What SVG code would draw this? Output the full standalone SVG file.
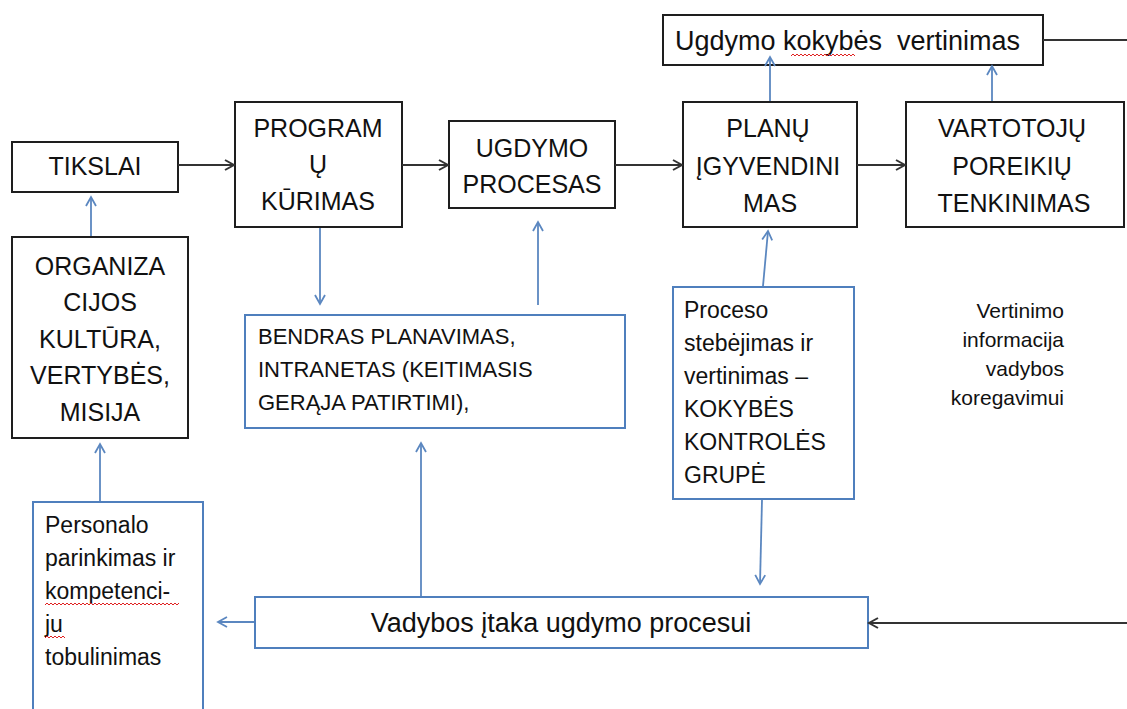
<svg xmlns="http://www.w3.org/2000/svg" width="1127" height="709" viewBox="0 0 1127 709">
<defs>
<style>
text{font-family:"Liberation Sans",Arial,sans-serif;fill:#111}
.kb{fill:#fff;stroke:#1e1e1e;stroke-width:2}
.bb{fill:#fff;stroke:#4f7fbd;stroke-width:2}
.t25{font-size:25px;text-anchor:middle}
.t22{font-size:22px}
.t23{font-size:23px}
.blk{stroke:#333;stroke-width:2;fill:none}
.blu{stroke:#5b87c0;stroke-width:1.8;fill:none}
.wave{stroke:#e02020;stroke-width:1;fill:none}
</style>
<marker id="ak" markerWidth="12" markerHeight="12" refX="10" refY="6" orient="auto" markerUnits="userSpaceOnUse">
<path d="M1,1 L10,6 L1,11" fill="none" stroke="#333" stroke-width="2"/>
</marker>
<marker id="ab" markerWidth="12" markerHeight="12" refX="10" refY="6" orient="auto" markerUnits="userSpaceOnUse">
<path d="M1,1 L10,6 L1,11" fill="none" stroke="#5b87c0" stroke-width="1.8"/>
</marker>
</defs>

<g id="ugdymo-kokybes">
<rect class="kb" x="663" y="15" width="380" height="50"/>
<text x="675" y="50" style="font-size:27px" xml:space="preserve">Ugdymo kokybės  vertinimas</text>
<path class="wave" d="M791,56 l2,-2 l2,2 l2,-2 l2,2 l2,-2 l2,2 l2,-2 l2,2 l2,-2 l2,2 l2,-2 l2,2 l2,-2 l2,2 l2,-2 l2,2 l2,-2 l2,2 l2,-2 l2,2 l2,-2 l2,2 l2,-2 l2,2 l2,-2 l2,2 l2,-2 l2,2 l2,-2 l2,2 l2,-2 l2,2"/>
</g>

<g id="tikslai">
<rect class="kb" x="12" y="142" width="166" height="50"/>
<text class="t25" x="95" y="175">TIKSLAI</text>
</g>

<g id="programu">
<rect class="kb" x="235" y="102" width="167" height="125"/>
<text class="t25" x="318" y="137">PROGRAM</text>
<text class="t25" x="318" y="173">Ų</text>
<text class="t25" x="318" y="210">KŪRIMAS</text>
</g>

<g id="ugdymo-procesas">
<rect class="kb" x="449" y="121" width="166" height="87"/>
<text class="t25" x="532" y="157">UGDYMO</text>
<text class="t25" x="532" y="193">PROCESAS</text>
</g>

<g id="planu">
<rect class="kb" x="683" y="102" width="174" height="125"/>
<text class="t25" x="768" y="137">PLANŲ</text>
<text class="t25" x="768" y="175">ĮGYVENDINI</text>
<text class="t25" x="770" y="212">MAS</text>
</g>

<g id="vartotoju">
<rect class="kb" x="906" y="102" width="218" height="125"/>
<text class="t25" x="1012" y="137">VARTOTOJŲ</text>
<text class="t25" x="1012" y="175">POREIKIŲ</text>
<text class="t25" x="1014" y="212">TENKINIMAS</text>
</g>

<g id="organizacijos">
<rect class="kb" x="12" y="237" width="176" height="201"/>
<text class="t25" x="100" y="275">ORGANIZA</text>
<text class="t25" x="100" y="311">CIJOS</text>
<text class="t25" x="100" y="348">KULTŪRA,</text>
<text class="t25" x="100" y="384">VERTYBĖS,</text>
<text class="t25" x="100" y="421">MISIJA</text>
</g>

<g id="bendras">
<rect class="bb" x="245" y="315" width="380" height="113"/>
<text class="t22" x="258" y="344">BENDRAS PLANAVIMAS,</text>
<text class="t22" x="258" y="377">INTRANETAS (KEITIMASIS</text>
<text class="t22" x="258" y="410">GERĄJA PATIRTIMI),</text>
</g>

<g id="proceso">
<rect class="bb" x="673" y="287" width="181" height="212"/>
<text class="t23" x="684" y="318">Proceso</text>
<text class="t23" x="684" y="351">stebėjimas ir</text>
<text class="t23" x="684" y="384">vertinimas –</text>
<text class="t23" x="684" y="417">KOKYBĖS</text>
<text class="t23" x="684" y="450">KONTROLĖS</text>
<text class="t23" x="684" y="483">GRUPĖ</text>
</g>

<g id="vertinimo-info">
<text x="1064" y="318" style="font-size:21px;text-anchor:end">Vertinimo</text>
<text x="1064" y="347" style="font-size:21px;text-anchor:end">informacija</text>
<text x="1064" y="376" style="font-size:21px;text-anchor:end">vadybos</text>
<text x="1064" y="405" style="font-size:21px;text-anchor:end">koregavimui</text>
</g>

<g id="personalo">
<path class="bb" d="M33,712 L33,502 L203,502 L203,712"/>
<text class="t23" x="45" y="533">Personalo</text>
<text class="t23" x="45" y="566">parinkimas ir</text>
<text class="t23" x="45" y="599">kompetenci-</text>
<text class="t23" x="45" y="632">ju</text>
<text class="t23" x="45" y="665">tobulinimas</text>
<path class="wave" d="M45,605 l2,-2 l2,2 l2,-2 l2,2 l2,-2 l2,2 l2,-2 l2,2 l2,-2 l2,2 l2,-2 l2,2 l2,-2 l2,2 l2,-2 l2,2 l2,-2 l2,2 l2,-2 l2,2 l2,-2 l2,2 l2,-2 l2,2 l2,-2 l2,2 l2,-2 l2,2 l2,-2 l2,2 l2,-2 l2,2 l2,-2 l2,2 l2,-2 l2,2 l2,-2 l2,2 l2,-2 l2,2 l2,-2 l2,2 l2,-2 l2,2 l2,-2 l2,2 l2,-2 l2,2 l2,-2 l2,2 l2,-2 l2,2 l2,-2 l2,2 l2,-2 l2,2 l2,-2 l2,2 l2,-2 l2,2 l2,-2 l2,2 l2,-2 l2,2 l2,-2 l2,2 l2,-2"/>
<path class="wave" d="M45,638 l2,-2 l2,2 l2,-2 l2,2 l2,-2 l2,2 l2,-2 l2,2 l2,-2 l2,2"/>
</g>

<g id="vadybos">
<rect class="bb" x="255" y="597" width="613" height="51"/>
<text x="561" y="632" style="font-size:27px;text-anchor:middle">Vadybos įtaka ugdymo procesui</text>
</g>

<g id="connectors">
<path class="blk" d="M1043,40 L1127,40"/>
<path class="blk" d="M178,165 L234,165" marker-end="url(#ak)"/>
<path class="blk" d="M402,165 L448,165" marker-end="url(#ak)"/>
<path class="blk" d="M615,165 L682,165" marker-end="url(#ak)"/>
<path class="blk" d="M857,165 L905,165" marker-end="url(#ak)"/>
<path class="blk" d="M1127,623 L869,623" marker-end="url(#ak)"/>
<path class="blu" d="M770,101 L770,57" marker-end="url(#ab)"/>
<path class="blu" d="M992,101 L992,66" marker-end="url(#ab)"/>
<path class="blu" d="M91,236 L91,197" marker-end="url(#ab)"/>
<path class="blu" d="M100,501 L100,444" marker-end="url(#ab)"/>
<path class="blu" d="M320,228 L320,304" marker-end="url(#ab)"/>
<path class="blu" d="M538,305 L538,222" marker-end="url(#ab)"/>
<path class="blu" d="M421,596 L421,443" marker-end="url(#ab)"/>
<path class="blu" d="M763,286 L768,231" marker-end="url(#ab)"/>
<path class="blu" d="M762,500 L760,584" marker-end="url(#ab)"/>
<path class="blu" d="M254,622 L218,622" marker-end="url(#ab)"/>
</g>
</svg>
